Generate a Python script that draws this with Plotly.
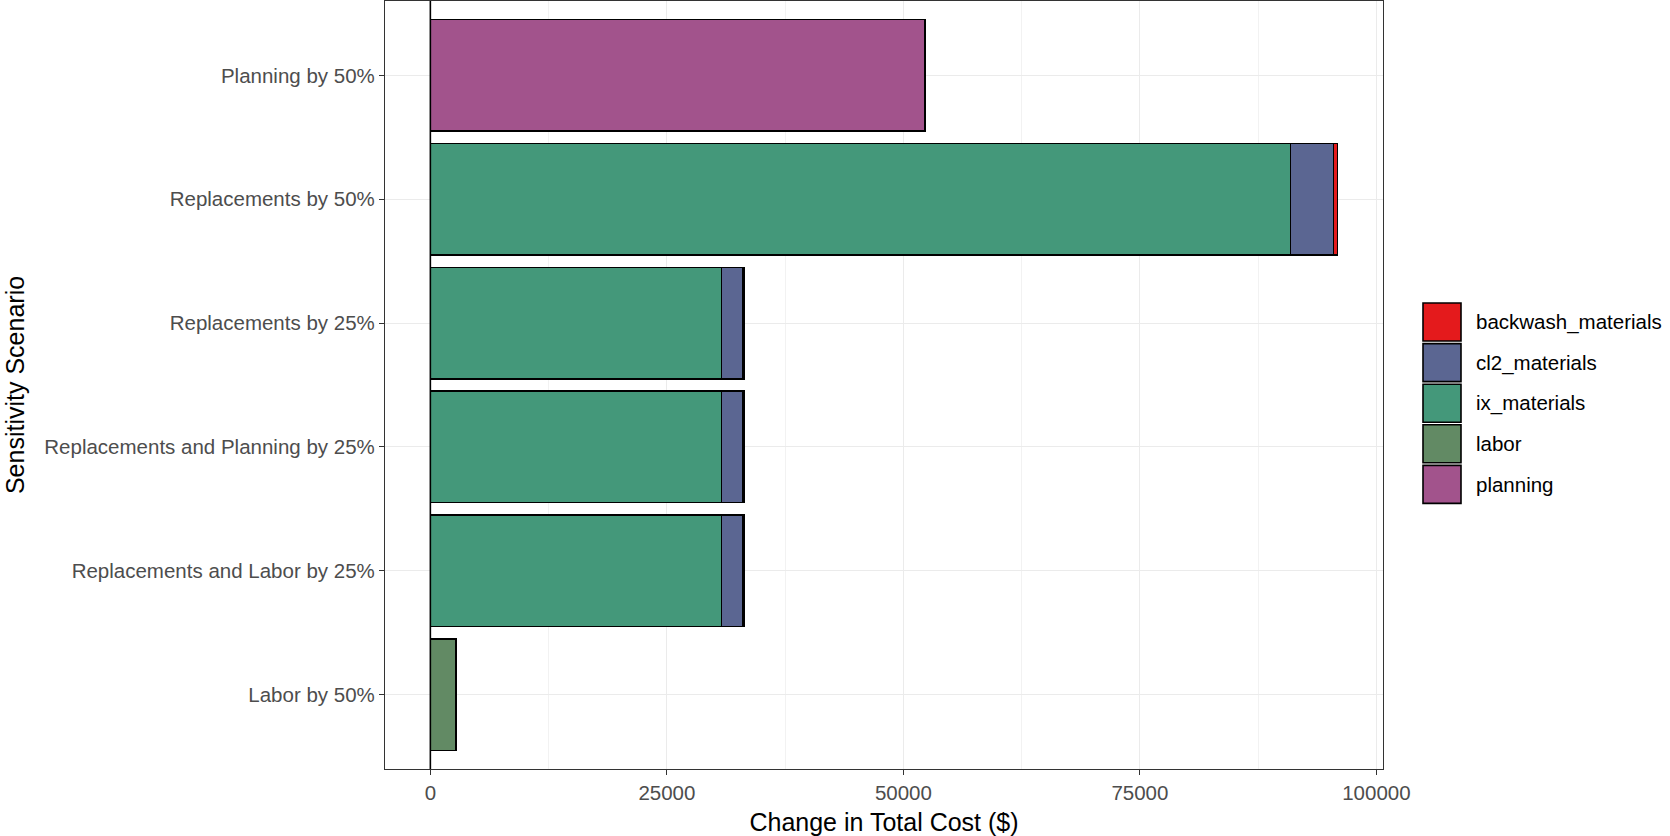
import plotly.graph_objects as go

scenarios = ["Labor by 50%", "Replacements and Labor by 25%", "Replacements and Planning by 25%",
             "Replacements by 25%", "Replacements by 50%", "Planning by 50%"]
planning = [0, 0, 0, 0, 0, 52280]
labor = [2680, 0, 0, 0, 0, 0]
ix_materials = [0, 30770, 30770, 30770, 90900, 0]
cl2_materials = [0, 2220, 2220, 2220, 4550, 0]
backwash_materials = [0, 150, 150, 150, 450, 0]

series = [("planning", planning, "#A2538C"),
          ("labor", labor, "#628A64"),
          ("ix_materials", ix_materials, "#44987A"),
          ("cl2_materials", cl2_materials, "#5B6692"),
          ("backwash_materials", backwash_materials, "#E41A1C")]
legend_order = ["backwash_materials", "cl2_materials", "ix_materials", "labor", "planning"]
colors = {n: c for n, _, c in series}

FONT = "Liberation Sans, Arial, sans-serif"
fig = go.Figure()
for name, vals, col in series:
    ys = [s for s, v in zip(scenarios, vals) if v]
    xs = [v for v in vals if v]
    fig.add_trace(go.Bar(x=xs, y=ys, orientation="h", name=name,
                         marker=dict(color=col, line=dict(color="black", width=1.6)),
                         showlegend=False))

totals = [sum(v) for v in zip(*[s[1] for s in series])]
xmax = max(totals)
pad = xmax * 0.05

fig.update_layout(
    width=1670, height=836,
    margin=dict(l=385, r=287, t=1, b=67),
    plot_bgcolor="white", paper_bgcolor="white",
    barmode="stack", bargap=0.1,
    font=dict(family=FONT, size=20, color="#4D4D4D"),
    xaxis=dict(range=[-pad, xmax + pad], tick0=0, dtick=25000, tickformat="d",
               showgrid=True, gridcolor="#EBEBEB", gridwidth=1.2,
               minor=dict(dtick=12500, tick0=0, showgrid=True, gridcolor="#F2F2F2", gridwidth=0.7),
               zeroline=False, showline=True, linecolor="#333333", linewidth=1.2, mirror=True,
               ticks="outside", ticklen=5, tickcolor="#333333",
               tickfont=dict(size=20.5, color="#4D4D4D"),
               title=dict(text="Change in Total Cost ($)", font=dict(size=25, color="black"), standoff=10)),
    yaxis=dict(type="category", categoryorder="array", categoryarray=scenarios,
               range=[-0.6, len(scenarios) - 0.4],
               showgrid=True, gridcolor="#EBEBEB", gridwidth=1.2,
               showline=True, linecolor="#333333", linewidth=1.2, mirror=True,
               ticks="outside", ticklen=5, tickcolor="#333333",
               tickfont=dict(size=20.5, color="#4D4D4D"),
               title=dict(text="Sensitivity Scenario", font=dict(size=25, color="black"), standoff=12)),
)

# vertical reference line at zero
fig.add_shape(type="line", xref="x", yref="paper", x0=0, x1=0, y0=0, y1=1,
              line=dict(color="black", width=1.6))

# custom legend (ggplot style)
W, H = 1670, 836
L, T, B = 385, 1, 67
ph = H - T - B
pw = W - L - 287
def px(x):
    return (x - L) / pw
def py(y):
    return 1 - (y - T) / ph
top = 303
step = 40.6
size = 38
for i, n in enumerate(legend_order):
    y0 = top + i * step
    fig.add_shape(type="rect", xref="paper", yref="paper",
                  x0=px(1423), x1=px(1461), y0=py(y0 + size), y1=py(y0),
                  fillcolor=colors[n], line=dict(color="black", width=1.6))
    fig.add_annotation(xref="paper", yref="paper", x=px(1474), y=py(y0 + size / 2),
                       text=n, showarrow=False, xanchor="left", yanchor="middle",
                       font=dict(family=FONT, size=20.5, color="black"))

fig.write_html("out.html", config={"displayModeBar": False},
               post_script="document.body.style.margin='0';")
